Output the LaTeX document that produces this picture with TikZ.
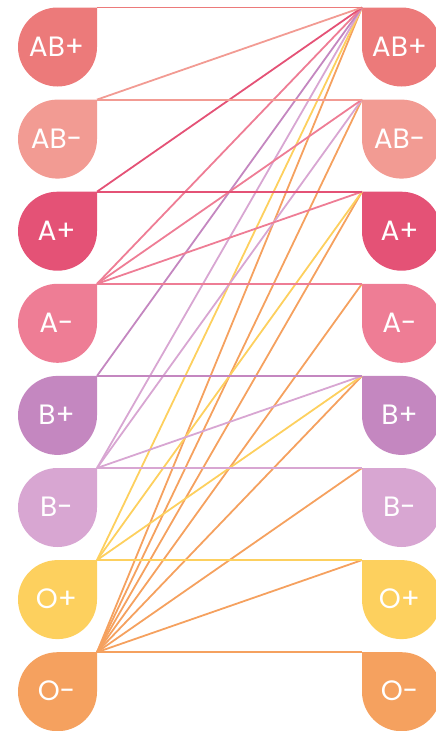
\documentclass[tikz,border=0pt]{standalone}
\usepackage{fontspec}
\setmainfont{Poppins}
\definecolor{c1}{RGB}{236,122,122}
\definecolor{c2}{RGB}{242,155,147}
\definecolor{c3}{RGB}{228,82,118}
\definecolor{c4}{RGB}{238,125,149}
\definecolor{c5}{RGB}{196,135,192}
\definecolor{c6}{RGB}{216,166,210}
\definecolor{c7}{RGB}{253,208,94}
\definecolor{c8}{RGB}{245,161,95}
\begin{document}
\begin{tikzpicture}[x=1pt,y=-1pt,
  link/.style={line width=1.8pt},
  lbl/.style={text=white, font=\fontsize{28}{28}\selectfont, inner sep=0pt}]
\useasboundingbox (0,0) rectangle (436,731);
\foreach \i/\t in {1/AB+,2/AB-,3/A+,4/A-,5/B+,6/B-,7/O+,8/O-}{
  \pgfmathsetmacro\tp{7.5+92.1*(\i-1)}
  \coordinate (L\i) at (97,\tp);
  \coordinate (R\i) at (362,\tp);
  \fill[c\i] (97,\tp) -- (97,\tp+39.5) arc[start angle=0,end angle=270,radius=39.5] -- cycle;
  \fill[c\i] (362,\tp) -- (401.5,\tp) arc[start angle=-90,end angle=180,radius=39.5] -- cycle;
  \node[lbl] (tl\i) at (56.5,\tp+39) {\t};
  \node[lbl] (tr\i) at (399.5,\tp+39) {\t};
}
% O- donor
\foreach \j in {1,...,8}{ \draw[link,c8] (L8) -- (R\j); }
% O+ donor
\foreach \j in {1,3,5,7}{ \draw[link,c7] (L7) -- (R\j); }
% B- donor
\foreach \j in {1,2,5,6}{ \draw[link,c6] (L6) -- (R\j); }
% B+ donor
\foreach \j in {1,5}{ \draw[link,c5] (L5) -- (R\j); }
% A- donor
\foreach \j in {1,2,3,4}{ \draw[link,c4] (L4) -- (R\j); }
% A+ donor
\foreach \j in {1,3}{ \draw[link,c3] (L3) -- (R\j); }
% AB- donor
\foreach \j in {1,2}{ \draw[link,c2] (L2) -- (R\j); }
% AB+ donor
\draw[link,c1] (L1) -- (R1);
\end{tikzpicture}
\end{document}
